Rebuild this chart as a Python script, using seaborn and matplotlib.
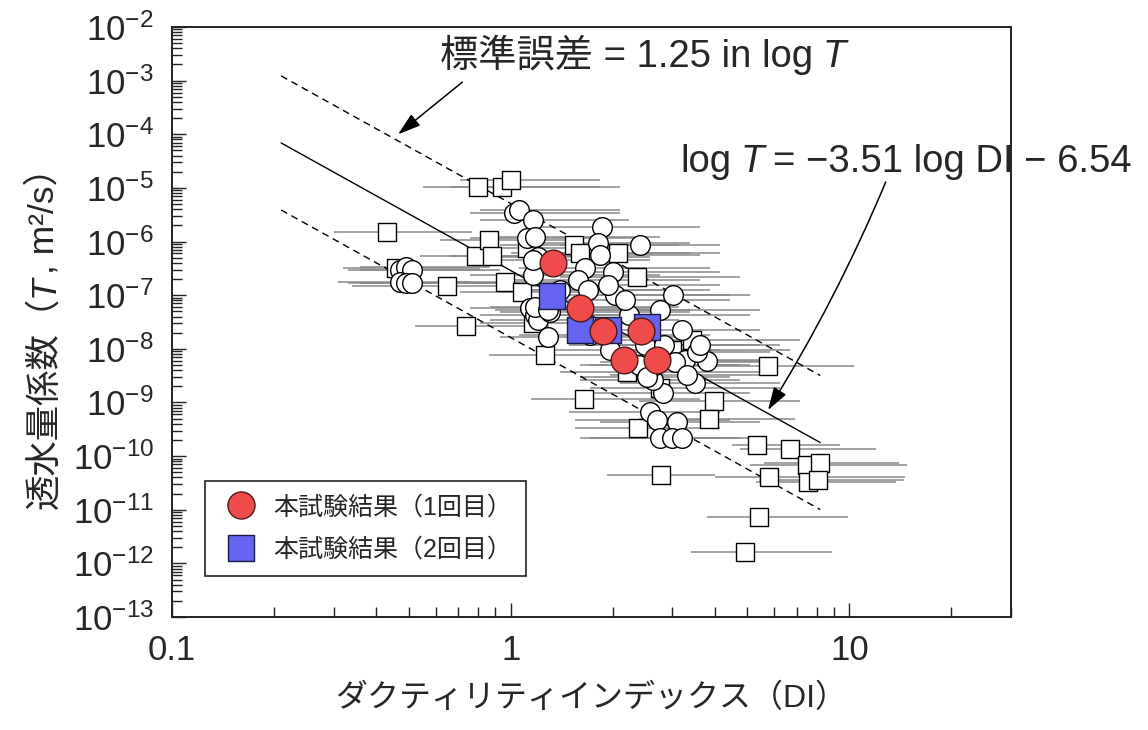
import numpy as np
import matplotlib
matplotlib.use("Agg")
import matplotlib.pyplot as plt
from matplotlib.lines import Line2D
from matplotlib.ticker import FixedLocator, FuncFormatter, LogLocator, NullFormatter
import seaborn as sns

# ---- data -------------------------------------------------------------
# existing data set, circles: ductility index, transmissivity, DI range
circ_di = [1.02, 1.06, 1.16, 1.12, 1.18, 1.20, 1.16, 1.14, 1.18, 1.20,
           1.31, 1.29, 1.86, 1.81, 1.84, 2.41, 1.66, 1.58, 2.00, 2.03,
           1.69, 1.94, 3.01, 3.21, 3.27, 3.80, 3.06, 3.55, 3.50, 3.32,
           2.82, 2.63, 2.58, 2.70, 3.10, 2.76, 2.99, 3.21, 0.47, 0.49,
           0.51, 0.47, 0.49, 0.51, 1.16, 1.18, 1.29, 2.24, 1.71, 2.49,
           1.96, 2.40, 2.84, 2.66, 3.61, 1.40, 2.17, 2.75, 2.52]
circ_t = [3.4e-6, 3.9e-6, 2.5e-6, 1.16e-6, 1.2e-6, 5.2e-7, 2.4e-7, 5.8e-8, 4.3e-8, 3.45e-8,
          4.9e-8, 1.66e-8, 1.87e-6, 9.4e-7, 5.6e-7, 8.6e-7, 3.2e-7, 1.9e-7, 2.7e-7, 1.0e-7,
          1.25e-7, 1.55e-7, 1.0e-7, 2.25e-8, 6.2e-9, 5.9e-9, 5.7e-9, 8.7e-9, 2.3e-9, 3.25e-9,
          1.5e-9, 2.6e-9, 6.6e-10, 4.7e-10, 4.3e-10, 2.2e-10, 2.2e-10, 2.2e-10, 2.95e-7, 3.4e-7,
          2.95e-7, 1.76e-7, 1.69e-7, 1.69e-7, 4.5e-7, 6.0e-8, 5.3e-8, 4.3e-8, 1.8e-8, 1.18e-8,
          9.5e-9, 5.0e-9, 1.18e-8, 5.0e-9, 1.18e-8, 1.25e-7, 8.1e-8, 5.3e-8, 3.0e-9]
circ_lo = [0.76, 0.81, 0.81, 0.76, 0.87, 0.81, 0.76, 0.76, 0.81, 0.87,
           0.93, 0.93, 1.22, 1.14, 1.14, 1.40, 1.06, 1.00, 1.22, 1.30,
           1.06, 1.22, 1.83, 1.96, 1.96, 2.24, 1.83, 2.10, 2.10, 1.96,
           1.71, 1.60, 1.49, 1.55, 1.83, 1.60, 1.71, 1.83, 0.33, 0.36,
           0.36, 0.31, 0.36, 0.33, 0.81, 0.87, 0.90, 1.40, 1.06, 1.49,
           1.30, 1.60, 1.83, 1.71, 2.24, 0.93, 1.40, 1.71, 1.60]
circ_hi = [2.10, 2.10, 2.24, 2.40, 2.75, 2.57, 2.75, 2.75, 2.95, 3.15,
           3.38, 3.61, 3.61, 3.38, 3.61, 4.14, 3.87, 3.61, 4.14, 4.43,
           3.87, 4.14, 5.08, 5.44, 5.44, 5.82, 5.44, 5.82, 6.23, 5.82,
           5.08, 4.74, 4.14, 4.43, 5.44, 4.14, 4.74, 5.44, 0.81, 0.87,
           0.93, 0.76, 0.93, 1.06, 2.57, 3.15, 3.38, 5.08, 3.87, 4.74,
           4.14, 5.08, 5.44, 4.74, 6.23, 3.15, 4.43, 5.44, 4.43]

# existing data set, squares
sq_di = [0.80, 0.94, 1.00, 0.43, 0.46, 0.65, 0.74, 0.79, 0.86, 0.88,
         0.96, 1.08, 1.12, 1.16, 1.26, 1.65, 1.54, 1.60, 2.07, 2.36,
         2.20, 2.76, 2.99, 3.43, 5.75, 3.98, 3.85, 2.38, 2.78, 5.33,
         6.67, 7.50, 8.18, 7.55, 8.07, 5.79, 5.41, 4.92]
sq_t = [1.04e-5, 1.04e-5, 1.4e-5, 1.5e-6, 3.2e-7, 1.48e-7, 2.67e-8, 5.4e-7, 1.07e-6, 5.4e-7,
        1.76e-7, 1.15e-7, 7.6e-7, 3.0e-8, 7.7e-9, 1.16e-9, 8.6e-7, 6.1e-7, 6.1e-7, 2.2e-7,
        3.7e-9, 1.86e-9, 9.5e-9, 1.46e-8, 4.8e-9, 1.06e-9, 4.9e-10, 3.3e-10, 4.4e-11, 1.6e-10,
        1.36e-10, 6.8e-11, 7.4e-11, 3.3e-11, 3.6e-11, 4.1e-11, 7.3e-12, 1.6e-12]
sq_lo = [0.55, 0.66, 0.71, 0.30, 0.32, 0.34, 0.52, 0.54, 0.62, 0.66,
         0.62, 0.71, 0.76, 0.81, 0.86, 1.15, 0.93, 1.00, 1.22, 1.40,
         1.40, 1.71, 1.83, 2.10, 3.38, 2.40, 2.40, 1.55, 1.92, 4.50,
         4.74, 5.10, 5.60, 5.30, 5.40, 4.00, 3.80, 3.40]
sq_hi = [1.83, 2.10, 1.83, 0.77, 0.81, 1.40, 1.30, 1.40, 1.60, 1.71,
         1.71, 1.96, 2.10, 2.40, 2.57, 3.61, 3.15, 3.38, 4.14, 4.74,
         5.44, 6.23, 6.67, 7.13, 10.3, 7.13, 6.90, 4.14, 4.00, 9.40,
         12.0, 14.8, 14.0, 13.7, 14.5, 14.6, 9.90, 8.90]

# this study
run1_di = [1.33, 1.60, 1.87, 2.43, 2.16, 2.70]
run1_t = [4.0e-7, 5.8e-8, 2.15e-8, 2.15e-8, 6.2e-9, 6.2e-9]
run2_di = [1.32, 1.60, 1.94, 2.53]
run2_t = [9.7e-8, 2.25e-8, 2.25e-8, 2.55e-8]

series_labels = ["本試験結果（1回目）", "本試験結果（2回目）"]

# regression: log T = slope * log DI + intercept, standard error in log T
fit_slope = -3.51
fit_intercept = -6.54
fit_se = 1.25
fit_range = [0.21, 8.2]

x_ticks = [0.1, 1, 10]
y_exponents = list(range(-13, -1))

# ---- style ------------------------------------------------------------
sns.set_style("ticks")
plt.rcParams["font.family"] = ["Liberation Sans", "Noto Sans CJK JP"]
plt.rcParams["mathtext.fontset"] = "custom"
plt.rcParams["mathtext.rm"] = "Liberation Sans"
plt.rcParams["mathtext.it"] = "Liberation Sans:italic"
plt.rcParams["mathtext.bf"] = "Liberation Sans:bold"
plt.rcParams["axes.unicode_minus"] = True

W, H = 1148, 730
fig, ax = plt.subplots(figsize=(W / 100, H / 100), dpi=100)
fig.subplots_adjust(left=0.1498, right=0.8807, top=0.963, bottom=0.1548)
ax.set_xscale("log")
ax.set_yscale("log")
ax.set_xlim(0.1, 30)
ax.set_ylim(1e-13, 1e-2)

# DI range bars
bar_kw = dict(color="#8a8a8a", linewidth=1.3, alpha=0.85, zorder=1)
ax.hlines(sq_t, sq_lo, sq_hi, **bar_kw)
ax.hlines(circ_t, circ_lo, circ_hi, **bar_kw)

# regression line and +/- one standard error
fx = np.array(fit_range)
fy = 10 ** (fit_slope * np.log10(fx) + fit_intercept)
sns.lineplot(x=fx, y=fy, color="black", linewidth=1.0, ax=ax, zorder=2)
for sgn in (1, -1):
    sns.lineplot(x=fx, y=fy * 10 ** (sgn * fit_se), color="black",
                 linewidth=1.0, linestyle=(0, (5, 3.5)), ax=ax, zorder=2)

# markers
sns.scatterplot(x=sq_di, y=sq_t, marker="s", s=185, color="white",
                edgecolor="black", linewidth=1.0, ax=ax, zorder=3)
sns.scatterplot(x=circ_di, y=circ_t, marker="o", s=200, color="white",
                edgecolor="black", linewidth=1.0, ax=ax, zorder=4)
sns.scatterplot(x=run2_di, y=run2_t, marker="s", s=330, color="#6464f0",
                edgecolor="#1a1a4a", linewidth=1.0, ax=ax, zorder=5)
sns.scatterplot(x=run1_di, y=run1_t, marker="o", s=370, color="#f04b4b",
                edgecolor="#4a1a1a", linewidth=1.0, ax=ax, zorder=6)

# axes, ticks
for side in ("top", "right", "bottom", "left"):
    ax.spines[side].set_visible(True)
    ax.spines[side].set_linewidth(1.4)
    ax.spines[side].set_color("#222222")
ax.xaxis.set_major_locator(FixedLocator(x_ticks))
ax.xaxis.set_major_formatter(FuncFormatter(lambda v, p: f"{v:g}"))
ax.xaxis.set_minor_locator(LogLocator(base=10, subs=np.arange(2, 10)))
ax.xaxis.set_minor_formatter(NullFormatter())
ax.yaxis.set_major_locator(FixedLocator([10.0 ** e for e in y_exponents]))
ax.yaxis.set_major_formatter(FuncFormatter(
    lambda v, p: r"$10^{%d}$" % int(round(np.log10(v)))))
ax.yaxis.set_minor_locator(LogLocator(base=10, subs=np.arange(2, 10), numticks=20))
ax.yaxis.set_minor_formatter(NullFormatter())
ax.tick_params(which="both", direction="in", top=False, right=False,
               color="#222222", width=1.0)
ax.tick_params(which="major", length=10, labelsize=25)
ax.tick_params(which="minor", length=7)
ax.tick_params(axis="y", which="major", pad=13)
ax.tick_params(axis="x", which="major", pad=12)

ax.set_xlabel("ダクティリティインデックス（DI）", fontsize=23, labelpad=12)

# ---- mixed-font text runs (CJK + italic T) ------------------------------
renderer = fig.canvas.get_renderer()


def text_run(pieces, cx, cy, size, vertical=False):
    """Draw pieces (text, style) or (None, gap_px) along one baseline,
    centred on display point (cx, cy)."""
    widths = []
    for s, sty in pieces:
        if s is None:
            widths.append(sty)
            continue
        t = fig.text(0, 0, s, fontsize=size, style=sty)
        widths.append(t.get_window_extent(renderer).width)
        t.remove()
    pos = -sum(widths) / 2
    for (s, sty), w in zip(pieces, widths):
        if s is not None:
            if vertical:
                fig.text(cx / W, (cy + pos) / H, s, fontsize=size, style=sty,
                         rotation=90, rotation_mode="anchor",
                         ha="left", va="baseline")
            else:
                fig.text((cx + pos) / W, cy / H, s, fontsize=size, style=sty,
                         ha="left", va="baseline")
        pos += w


def data_to_px(x, y):
    return ax.transData.transform((x, y))


# y-axis label
text_run([("透水量係数（", "normal"), ("T", "italic"), (None, 1),
          (", m²/s）", "normal")], 54, H - 330, 25.5, vertical=True)

# standard error note
px, py = data_to_px(2.46, 1.8e-3)
text_run([("標準誤差 = 1.25 in log", "normal"), (None, 9), ("T", "italic")],
         px, py, 27.5)
ax.annotate("", xy=(0.465, 1.0e-4), xytext=(0.72, 9.4e-4),
            arrowprops=dict(arrowstyle="-|>,head_length=0.7,head_width=0.22",
                            color="black", lw=1.1, mutation_scale=20,
                            shrinkA=0, shrinkB=0))

# regression equation
px, py = data_to_px(14.7, 1.98e-5)
text_run([("log", "normal"), (None, 9), ("T", "italic"), (None, 9),
          ("= \u22123.51 log DI \u2212 6.54", "normal")], px, py, 27.5)
ax.annotate("", xy=(5.75, 7.2e-10), xytext=(12.8, 1.29e-5),
            arrowprops=dict(arrowstyle="-|>,head_length=0.7,head_width=0.22",
                            color="black", lw=1.1, mutation_scale=20,
                            shrinkA=0, shrinkB=0,
                            connectionstyle="arc3,rad=-0.04"))

# legend
handles = [
    Line2D([], [], marker="o", linestyle="none", markersize=19.5,
           markerfacecolor="#f04b4b", markeredgecolor="#4a1a1a", markeredgewidth=1.0),
    Line2D([], [], marker="s", linestyle="none", markersize=18.5,
           markerfacecolor="#6464f0", markeredgecolor="#1a1a4a", markeredgewidth=1.0),
]
leg = ax.legend(handles, series_labels, loc="lower left",
                bbox_to_anchor=(0.039, 0.07), borderaxespad=0, fontsize=18,
                frameon=True, fancybox=False, framealpha=1, edgecolor="#222222",
                borderpad=0.55, handlelength=1.8, handletextpad=0.4,
                labelspacing=0.75)
leg.get_frame().set_linewidth(1.2)
leg.set_zorder(8)

fig.savefig("out.png", dpi=100)
